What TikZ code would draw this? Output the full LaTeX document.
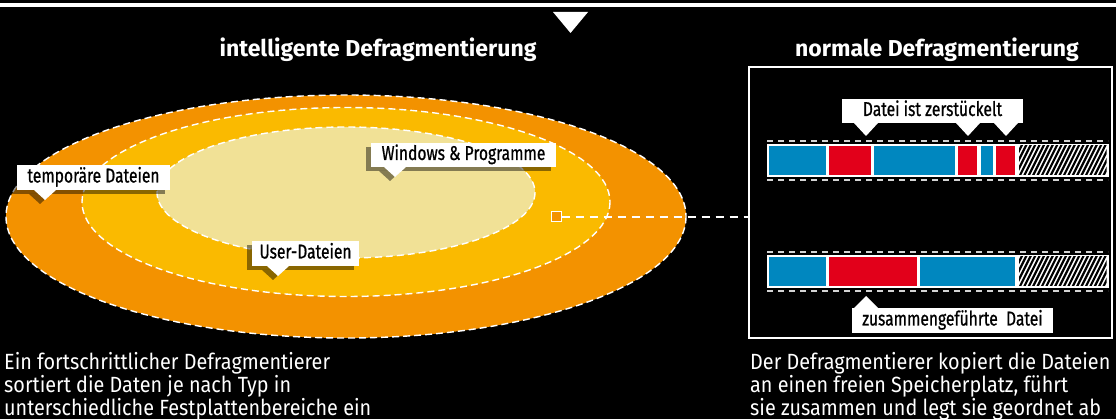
\documentclass[tikz,border=0pt]{standalone}
\usepackage{fontspec}
\setmainfont{Fira Sans}[FakeStretch=0.9]
\newfontfamily\titrefont{Fira Sans}
\newfontfamily\etikettfont{Fira Sans}[FakeStretch=0.78,FakeBold=0.8]
\usepackage{tikz}
\usepackage{xcolor}
\usetikzlibrary{shadows}
\definecolor{OrangeA}{HTML}{F39200}
\definecolor{OrangeB}{HTML}{FABA00}
\definecolor{SableC}{HTML}{F1E196}
\definecolor{BleuD}{HTML}{0087BF}
\definecolor{RougeD}{HTML}{E2001A}
\definecolor{GrisT}{HTML}{D4D4D4}
\newcommand{\PointeOmbre}[3]{%
 \fill[black, opacity=0.45] ({#1-16},{#2+4}) -- ({#1+6},{#2+4}) -- ({#1-5},{#3+4}) -- cycle;
 \fill[white] ({#1-11},#2) -- ({#1+11},#2) -- (#1,#3) -- cycle;}
\newcommand{\Pointe}[3]{%
 \fill[white] ({#1-12},#2) -- ({#1+12},#2) -- (#1,#3) -- cycle;}
\tikzset{
Titre/.style={
 text=white, 
 font=\titrefont\bfseries\fontsize{23}{23}\selectfont
 },
Texte/.style={
 text=white, 
 align=left, 
 inner sep=0pt, 
 font=\fontsize{22}{21.5}\selectfont
 },
Etikett/.style={
 rectangle, 
 fill=white, 
 text=black, 
 font=\etikettfont\fontsize{20}{20}\selectfont, 
 inner sep=0pt, 
 minimum height=25pt, 
 text height=14pt, 
 text depth=4pt
 },
EtikettOmbre/.style={
 Etikett, 
 drop shadow={shadow xshift=-5pt, shadow yshift=-4pt, fill=black, opacity=0.45}
 },
Pointille/.style={
 draw=white, 
 line width=1.4pt, 
 dash pattern=on 7pt off 4pt
 },
Strich/.style={
 draw=GrisT, 
 line width=1.6pt, 
 dash pattern=on 6pt off 5pt
 }
}
\begin{document}
\begin{tikzpicture}[x=1pt,y=-1pt]
\useasboundingbox (0,0) rectangle (1116,419);
\fill[black] (0,0) rectangle (1116,419);
\fill[white] (0,3) rectangle (1116,7);
\fill[white] (553,12) -- (588,12) -- (570.5,33) -- cycle;
\node[Titre] (titreG) at (378,50) {intelligente Defragmentierung};
\node[Titre] (titreD) at (937,50) {normale Defragmentierung};
\fill[OrangeA] (346,216.5) ellipse [x radius=340, y radius=121.5];
\draw[Pointille] (346,216.5) ellipse [x radius=340, y radius=121.5];
\fill[OrangeB] (346,202) ellipse [x radius=264, y radius=94.5];
\draw[Pointille] (346,202) ellipse [x radius=264, y radius=94.5];
\fill[SableC] (346,192.5) ellipse [x radius=189, y radius=65.5];
\draw[Pointille] (346,192.5) ellipse [x radius=189, y radius=65.5];
\node[EtikettOmbre, minimum width=153pt] (temp) at (93.5,177.5) {temporäre Dateien};
\PointeOmbre{45}{190}{200}
\node[EtikettOmbre, minimum width=185pt, minimum height=24pt] (win) at (463.5,155) {Windows \& Programme};
\PointeOmbre{395}{167}{177}
\node[EtikettOmbre, minimum width=107pt] (user) at (305.5,253.5) {User-Dateien};
\PointeOmbre{278}{266}{276}
\node[draw=white, line width=1.2pt, minimum width=363pt, minimum height=271pt] (rbox) at (930.5,202.5) {};
\node[fill=OrangeA, draw=white, line width=1pt, minimum size=10pt, inner sep=0pt] (sq) at (556,217) {};
\draw[white, line width=1.6pt, dash pattern=on 8pt off 6pt] (sq.east) -- (sq -| rbox.west);
\draw[Strich] (767,141) -- (1108,141);
\draw[Strich] (767,180) -- (1108,180);
\fill[white] (766.5,144) rectangle (1108.5,177);
\foreach \a/\b/\c in {769/826/BleuD, 829/871/RougeD, 874/955/BleuD, 958/977/RougeD, 981/993/BleuD, 996/1015/RougeD}
 \fill[\c] (\a,146) rectangle (\b,175);
\begin{scope}
\clip (1019,146) rectangle (1106.5,175);
\foreach \i in {0,...,25}
 \draw[line width=2.2pt] (1000+\i*4.4,180) -- ++(20,-40);
\end{scope}
\draw[Strich] (767,252) -- (1108,252);
\draw[Strich] (767,291) -- (1108,291);
\fill[white] (766.5,255) rectangle (1108.5,288);
\foreach \a/\b/\c in {769/826/BleuD, 829/917/RougeD, 920/1015/BleuD}
 \fill[\c] (\a,257) rectangle (\b,286);
\begin{scope}
\clip (1019,257) rectangle (1106.5,286);
\foreach \i in {0,...,25}
 \draw[line width=2.2pt] (1000+\i*4.4,291) -- ++(20,-40);
\end{scope}
\node[Etikett, minimum width=181pt, minimum height=24pt] (zerst) at (932.5,111) {Datei ist zerstückelt};
\foreach \px in {866,968,1006}
 \Pointe{\px}{123}{136}
\node[Etikett, minimum width=201pt] (zusam) at (952.5,320.5) {zusammengeführte~ Datei};
\Pointe{866}{308}{296}
\node[Texte, anchor=north west] (texteG) at (4,352) {Ein fortschrittlicher Defragmentierer\\sortiert die Daten je nach Typ in\\unterschiedliche Festplattenbereiche ein};
\node[Texte, anchor=north west] (texteD) at (750,352) {Der Defragmentierer kopiert die Dateien\\an einen freien Speicherplatz, führt\\sie zusammen und legt sie geordnet ab};
\end{tikzpicture}
\end{document}
